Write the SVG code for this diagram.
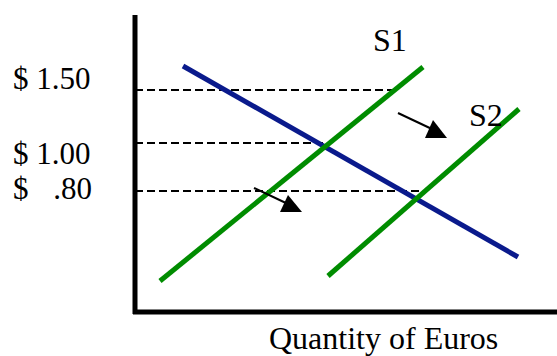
<svg xmlns="http://www.w3.org/2000/svg" width="557" height="356" viewBox="0 0 557 356">
<style>
text{font-family:"Liberation Serif","Times New Roman",serif;font-size:32px;fill:#000}
.price{font-size:31px}
.dash{stroke:#000;stroke-width:2;stroke-dasharray:8,4;fill:none}
.axis{stroke:#000;stroke-width:5;fill:none}
.supply{stroke:#008C00;stroke-width:5;fill:none}
.demand{stroke:#0A1A8C;stroke-width:5;fill:none}
.arr{stroke:#000;stroke-width:2;fill:none}
</style>
<rect width="557" height="356" fill="#fff"/>
<g id="axes">
<line class="axis" x1="135" y1="15" x2="135" y2="314"/>
<line class="axis" x1="133" y1="312" x2="557" y2="312"/>
</g>
<g id="guides">
<line class="dash" x1="135" y1="90" x2="399" y2="90"/>
<line class="dash" x1="135" y1="143" x2="328" y2="143"/>
<line class="dash" x1="135" y1="191" x2="422" y2="191"/>
</g>
<g id="D"><line class="demand" x1="183" y1="66" x2="518" y2="257"/></g>
<g id="S1"><line class="supply" x1="160" y1="281" x2="423" y2="67"/><text x="373" y="51">S1</text></g>
<g id="S2"><line class="supply" x1="328" y1="276" x2="519" y2="109"/><text x="469" y="126">S2</text></g>
<g id="connectors">
<line class="arr" x1="398" y1="113" x2="434" y2="130"/>
<polygon points="433,120 425,138 447,138" fill="#000"/>
<line class="arr" x1="254" y1="188" x2="288" y2="204"/>
<polygon points="288,195 280,212 302,212" fill="#000"/>
</g>
<g id="labels">
<text class="price" x="13" y="89">$ 1.50</text>
<text class="price" x="13" y="164">$ 1.00</text>
<text class="price" x="13" y="199">$<tspan x="92" text-anchor="end">.80</tspan></text>
<text x="269" y="349">Quantity of Euros</text>
</g>
</svg>
